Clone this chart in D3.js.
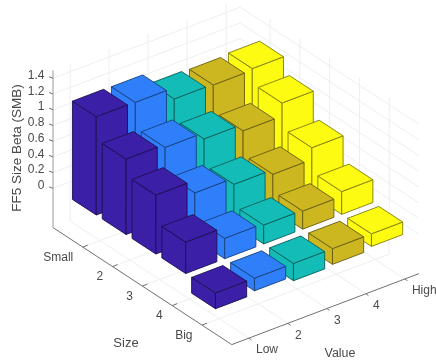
<!DOCTYPE html>
<html>
<head>
<meta charset="utf-8">
<script src="https://cdn.jsdelivr.net/npm/d3@7"></script>
<style>
	html, body { margin: 0; padding: 0; background: #fff; }
	svg { display: block; filter: blur(0.35px); }
	text { font-family: "Liberation Sans", Arial, sans-serif; fill: #4a4a4a; }
</style>
</head>
<body>
<div id="chart"></div>
<script>
var windowW = 436;
var windowH = 360;

var sizeTicks = ["Small", "2", "3", "4", "Big"];
var valueTicks = ["Low", "2", "3", "4", "High"];
var betaTicks = [0, 0.2, 0.4, 0.6, 0.8, 1, 1.2, 1.4];

// one list per value portfolio, small to big
var valueLow = [1.25, 0.96, 0.75, 0.40, -0.20];
var value2 = [1.245, 0.92, 0.59, 0.26, -0.16];
var value3 = [1.10, 0.84, 0.51, 0.24, -0.22];
var value4 = [1.09, 0.755, 0.45, 0.23, -0.20];
var valueHigh = [1.11, 0.92, 0.60, 0.29, -0.16];

var seriesValues = [valueLow, value2, value3, value4, valueHigh];
var seriesColors = ["#3b1fa6", "#2f7ffb", "#13bcb6", "#cdb720", "#fdfb12"];

var barHalf = 0.4;

//////// the axes box, an oblique view built out of plain linear scales
var valueLim = [0.56, 5.36];
var sizeLim = [0, 6];
var betaLim = [-0.5, 1.5];

var valueX = d3.scaleLinear().domain(valueLim).range([0, 187.2]);
var valueY = d3.scaleLinear().domain(valueLim).range([0, -71]);
var sizeX = d3.scaleLinear().domain(sizeLim).range([0, 178.8]);
var sizeY = d3.scaleLinear().domain(sizeLim).range([0, 117]);
var betaY = d3.scaleLinear().domain(betaLim).range([227.6, 70.4]);

function project(v, s, z) {
	return [53 + valueX(v) + sizeX(s), betaY(z) + valueY(v) + sizeY(s)];
}

var svg = d3.select("#chart").append("svg")
	.attr("width", windowW)
	.attr("height", windowH);

var line = d3.line();

function drawEdge(group, a, b, color, width) {
	group.append("path")
		.attr("d", line([a, b]))
		.attr("fill", "none")
		.attr("stroke", color)
		.attr("stroke-width", width);
}

/////////// GRID

var gridColor = "#eeeef2";
var gridGroup = svg.append("g");

d3.range(1, 6).forEach(function(n) {
	// floor
	drawEdge(gridGroup, project(n, sizeLim[0], betaLim[0]), project(n, sizeLim[1], betaLim[0]), gridColor, 1);
	drawEdge(gridGroup, project(valueLim[0], n, betaLim[0]), project(valueLim[1], n, betaLim[0]), gridColor, 1);
	// back walls, verticals
	drawEdge(gridGroup, project(n, sizeLim[0], betaLim[0]), project(n, sizeLim[0], betaLim[1]), gridColor, 1);
	drawEdge(gridGroup, project(valueLim[1], n, betaLim[0]), project(valueLim[1], n, betaLim[1]), gridColor, 1);
});

betaTicks.forEach(function(z) {
	drawEdge(gridGroup, project(valueLim[0], sizeLim[0], z), project(valueLim[1], sizeLim[0], z), gridColor, 1);
	drawEdge(gridGroup, project(valueLim[1], sizeLim[0], z), project(valueLim[1], sizeLim[1], z), gridColor, 1);
});

/////////// AXES

var axisGroup = svg.append("g");
var axisColor = "#707070";

drawEdge(axisGroup, project(valueLim[0], sizeLim[0], betaLim[0]), project(valueLim[0], sizeLim[0], betaLim[1]), "#9a9a9a", 1);
drawEdge(axisGroup, project(valueLim[0], sizeLim[0], betaLim[0]), project(valueLim[0], sizeLim[1], betaLim[0]), axisColor, 1);
drawEdge(axisGroup, project(valueLim[0], sizeLim[1], betaLim[0]), project(valueLim[1], sizeLim[1], betaLim[0]), axisColor, 1);

betaTicks.forEach(function(z) {
	var p = project(valueLim[0], sizeLim[0], z);
	drawEdge(axisGroup, p, [p[0] - 4, p[1] - 1.5], axisColor, 1);
	axisGroup.append("text")
		.attr("x", p[0] - 8.5)
		.attr("y", p[1] - 3.5)
		.attr("dy", "0.35em")
		.attr("text-anchor", "end")
		.attr("font-size", 12)
		.text(z);
});

sizeTicks.forEach(function(label, i) {
	var p = project(valueLim[0], i + 1, betaLim[0]);
	drawEdge(axisGroup, p, [p[0] + 5, p[1] - 2], axisColor, 1);
	axisGroup.append("text")
		.attr("x", p[0] - 9.5)
		.attr("y", p[1] + 9.5)
		.attr("dy", "0.35em")
		.attr("text-anchor", "end")
		.attr("font-size", 12)
		.text(label);
});

valueTicks.forEach(function(label, i) {
	var p = project(i + 1, sizeLim[1], betaLim[0]);
	drawEdge(axisGroup, p, [p[0] + 2.5, p[1] + 2], axisColor, 1);
	axisGroup.append("text")
		.attr("x", p[0] + 7)
		.attr("y", p[1] + 11)
		.attr("dy", "0.35em")
		.attr("text-anchor", "start")
		.attr("font-size", 12)
		.text(label);
});

svg.append("text")
	.attr("transform", "translate(16,148) rotate(-90)")
	.attr("text-anchor", "middle")
	.attr("dy", "0.35em")
	.attr("font-size", 13.5)
	.text("FF5 Size Beta (SMB)");

svg.append("text")
	.attr("x", 126)
	.attr("y", 342)
	.attr("text-anchor", "middle")
	.attr("dy", "0.35em")
	.attr("font-size", 13)
	.text("Size");

svg.append("text")
	.attr("x", 340)
	.attr("y", 353)
	.attr("text-anchor", "middle")
	.attr("dy", "0.35em")
	.attr("font-size", 12.5)
	.text("Value");

/////////// BARS

var bars = [];
seriesValues.forEach(function(values, c) {
	values.forEach(function(d, r) {
		bars.push({ v: c + 1, s: r + 1, value: d, color: seriesColors[c] });
	});
});

// back to front
bars.sort(function(a, b) {
	return d3.ascending(a.s, b.s) || d3.descending(a.v, b.v);
});

function barFaces(d) {
	var top = Math.max(d.value, 0);
	var bottom = Math.min(d.value, 0);
	var v0 = d.v - barHalf, v1 = d.v + barHalf;
	var s0 = d.s - barHalf, s1 = d.s + barHalf;
	return [
		[project(v0, s0, bottom), project(v0, s1, bottom), project(v0, s1, top), project(v0, s0, top)],
		[project(v0, s1, bottom), project(v1, s1, bottom), project(v1, s1, top), project(v0, s1, top)],
		[project(v0, s0, top), project(v0, s1, top), project(v1, s1, top), project(v1, s0, top)]
	];
}

var barGroups = svg.append("g").selectAll("g")
	.data(bars)
	.join("g");

barGroups.selectAll("path")
	.data(function(d) {
		return barFaces(d).map(function(face) {
			return { face: face, color: d.color };
		});
	})
	.join("path")
	.attr("d", function(d) { return line(d.face) + "Z"; })
	.attr("fill", function(d) { return d.color; })
	.attr("stroke", function(d) { return d3.interpolateRgb(d.color, "#000")(0.5); })
	.attr("stroke-width", 0.9)
	.attr("stroke-linejoin", "round");
</script>
</body>
</html>
